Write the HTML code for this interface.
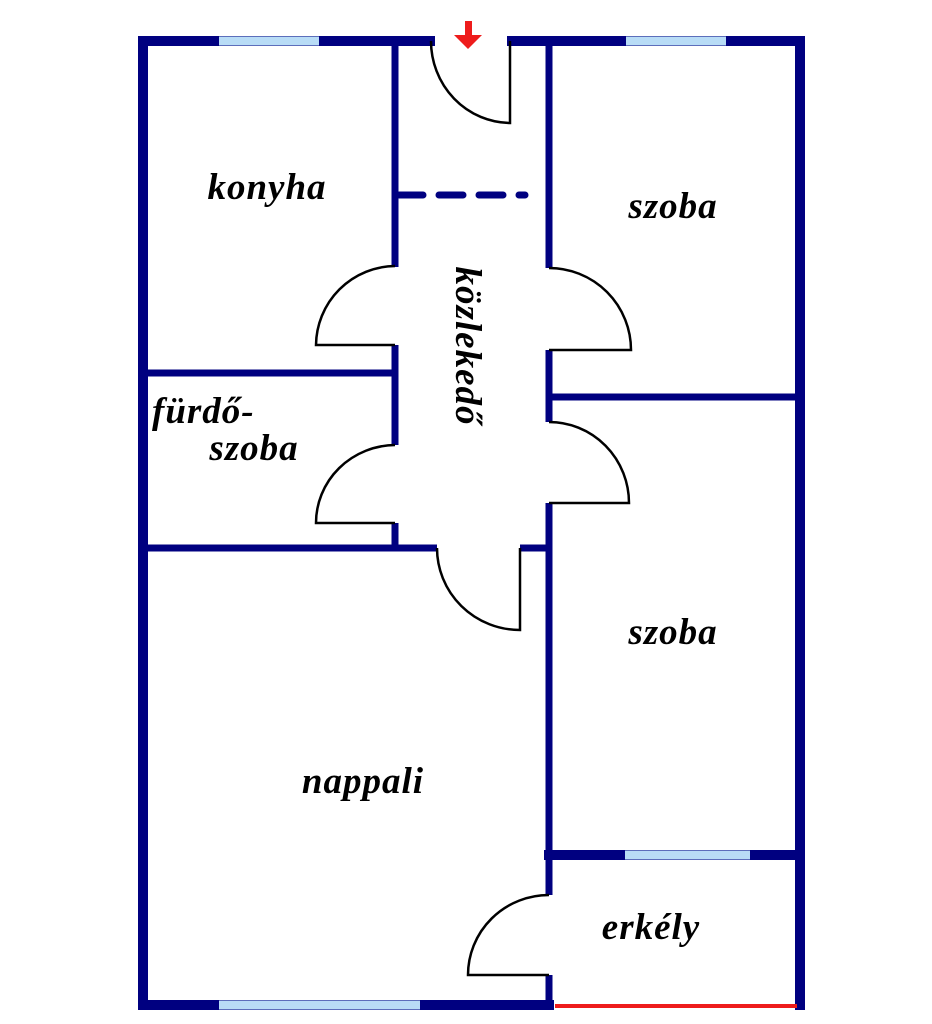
<!DOCTYPE html>
<html><head><meta charset="utf-8"><style>
html,body{margin:0;padding:0;background:#fff;}
svg{display:block;}
text{font-family:"Liberation Serif",serif;font-style:italic;font-weight:bold;font-size:37px;fill:#000;letter-spacing:1px;}
</style></head><body>
<svg width="932" height="1024" viewBox="0 0 932 1024" xmlns="http://www.w3.org/2000/svg">
<g stroke="#000080" stroke-linecap="square" fill="none">
 <g stroke-width="10">
  <line x1="143" y1="41" x2="430" y2="41"/>
  <line x1="512" y1="41" x2="800" y2="41"/>
  <line x1="143" y1="41" x2="143" y2="1005"/>
  <line x1="800" y1="41" x2="800" y2="1005"/>
  <line x1="143" y1="1005" x2="549" y2="1005"/>
  <line x1="549" y1="855" x2="800" y2="855"/>
 </g>
 <g stroke-width="7" stroke-linecap="butt">
  <line x1="395" y1="41" x2="395" y2="267"/>
  <line x1="395" y1="345" x2="395" y2="445"/>
  <line x1="395" y1="523" x2="395" y2="551"/>
  <line x1="549" y1="41" x2="549" y2="268"/>
  <line x1="549" y1="350" x2="549" y2="422"/>
  <line x1="549" y1="503" x2="549" y2="895"/>
  <line x1="549" y1="975" x2="549" y2="1010"/>
  <line x1="143" y1="373" x2="395" y2="373"/>
  <line x1="549" y1="397" x2="800" y2="397"/>
  <line x1="143" y1="548" x2="437" y2="548"/>
  <line x1="520" y1="548" x2="552" y2="548"/>
 </g>
 <line x1="399" y1="195" x2="525" y2="195" stroke-width="7" stroke-dasharray="24,16" stroke-linecap="round"/>
</g>
<g stroke="#b8dcf6" stroke-width="9">
 <line x1="219" y1="41" x2="319" y2="41"/>
 <line x1="626" y1="41" x2="726" y2="41"/>
 <line x1="625" y1="855" x2="750" y2="855"/>
 <line x1="219" y1="1005" x2="420" y2="1005"/>
</g>
<line x1="555" y1="1006" x2="797" y2="1006" stroke="#ee1c1c" stroke-width="4"/>
<g stroke="#000" stroke-width="2.5" fill="none">
 <path d="M431,41 A80,82 0 0 0 510,123 L510,41"/>
 <path d="M395,266 A80,80 0 0 0 316,345 L395,345"/>
 <path d="M395,445 A80,78 0 0 0 316,523 L395,523"/>
 <path d="M549,268 A82,82 0 0 1 631,350 L549,350"/>
 <path d="M549,422 A80,81 0 0 1 629,503 L549,503"/>
 <path d="M437,548 A83,82 0 0 0 520,630 L520,548"/>
 <path d="M549,895 A81,80 0 0 0 468,975 L549,975"/>
</g>
<polygon points="465,21 472,21 472,35 482,35 468,49 454,35 465,35" fill="#ee1c1c"/>
<text x="267" y="199" text-anchor="middle">konyha</text>
<text x="673" y="218" text-anchor="middle">szoba</text>
<text x="152" y="423">fürdő-</text>
<text x="254" y="460" text-anchor="middle">szoba</text>
<text x="673" y="644" text-anchor="middle">szoba</text>
<text x="363" y="793" text-anchor="middle">nappali</text>
<text x="651" y="939" text-anchor="middle">erkély</text>
<text transform="translate(456,346) rotate(90)" text-anchor="middle">közlekedő</text>
</svg>
</body></html>
